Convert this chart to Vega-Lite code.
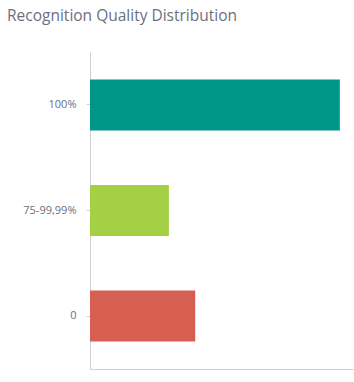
{
  "$schema": "https://vega.github.io/schema/vega-lite/v6.json",
  "autosize": "none",
  "width": 263,
  "height": 317,
  "padding": {"left": 90, "top": 52, "right": 1, "bottom": 13},
  "background": "white",
  "title": {
    "text": "Recognition Quality Distribution",
    "anchor": "start",
    "frame": "group",
    "dx": -83,
    "offset": 28,
    "font": "Open Sans",
    "fontSize": 15.5,
    "fontWeight": "normal",
    "color": "#6b6f80"
  },
  "data": {
    "values": [
      {"category": "100%", "count": 19, "color": "#009688"},
      {"category": "75-99,99%", "count": 6, "color": "#a5cf45"},
      {"category": "0", "count": 8, "color": "#d65f52"}
    ]
  },
  "mark": {"type": "bar"},
  "encoding": {
    "y": {
      "field": "category",
      "type": "nominal",
      "sort": null,
      "scale": {"paddingInner": 0.517, "paddingOuter": 0.26},
      "axis": {
        "title": null,
        "domainColor": "#d0d0d8",
        "tickColor": "#d0d0d8",
        "tickSize": 4,
        "labelPadding": 10,
        "labelFont": "Open Sans",
        "labelFontSize": 11,
        "labelColor": "#6b6f80"
      }
    },
    "x": {
      "field": "count",
      "type": "quantitative",
      "scale": {"domain": [0, 20], "nice": false},
      "axis": {
        "title": null,
        "labels": false,
        "ticks": false,
        "grid": false,
        "domainColor": "#d0d0d8"
      }
    },
    "color": {"field": "color", "type": "nominal", "scale": null, "legend": null}
  },
  "config": {"view": {"stroke": null}}
}
